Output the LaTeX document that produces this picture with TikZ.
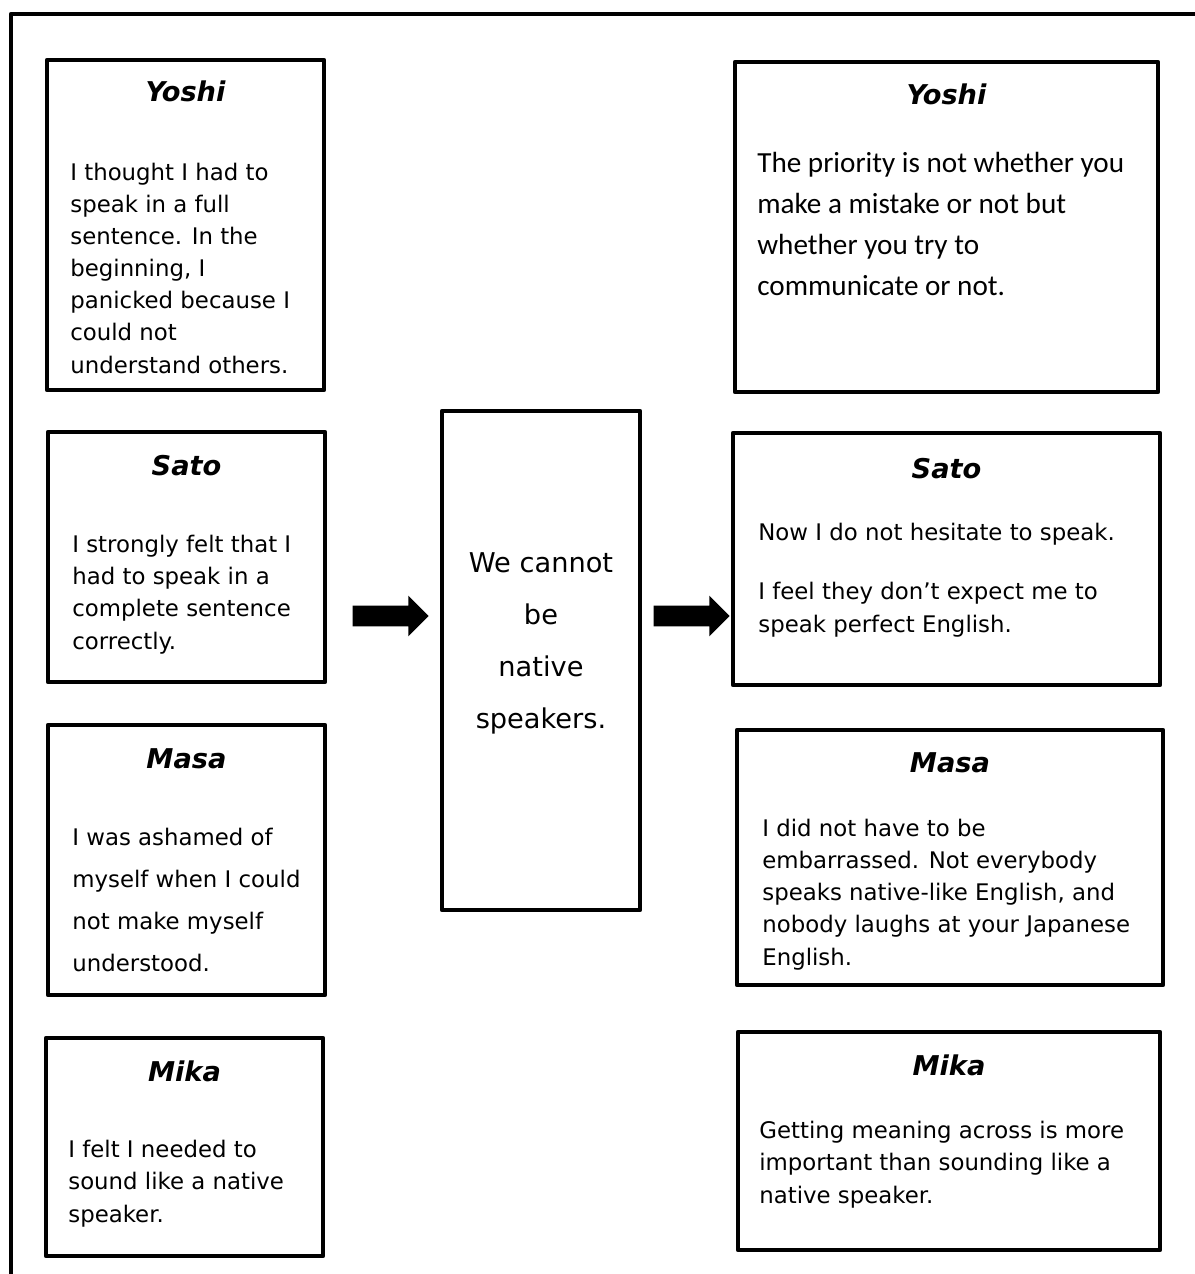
\documentclass[tikz,border=0pt]{standalone}
\usepackage{fontspec}
\setmainfont{DejaVu Sans}
\newfontfamily\carlito{Carlito}
\usetikzlibrary{shapes.arrows}

\begin{document}
\begin{tikzpicture}[x=0.02cm,y=-0.02cm,
  box/.style={draw,line width=2.6pt,line join=round,inner sep=0pt},
  who/.style={anchor=base,inner sep=0pt,font=\fontsize{15.5}{18}\selectfont\bfseries\itshape},
  body/.style={anchor=base west,align=left,inner sep=0pt,font=\fontsize{13}{18.3}\selectfont},
  blk/.style={single arrow,fill,draw=none,inner sep=0.2cm,single arrow head extend=0.2cm,minimum height=1.52cm}]
  \useasboundingbox (0,0) rectangle (1194,1274);
  \draw[line width=2.6pt,line join=round] (11,1290) -- (11,14) -- (1210,14);
  % before
  \node[box,minimum width=5.54cm,minimum height=6.6cm](yl)at(185.5,225){};
  \node[box,minimum width=5.54cm,minimum height=5.0cm](sl)at(186.5,557){};
  \node[box,minimum width=5.54cm,minimum height=5.4cm](ml)at(186.5,860){};
  \node[box,minimum width=5.54cm,minimum height=4.36cm](kl)at(184.5,1147){};
  % middle
  \node[box,minimum width=3.96cm,minimum height=9.98cm](mid)at(541,660.5){};
  % after
  \node[box,minimum width=8.46cm,minimum height=6.6cm](yr)at(946.5,227){};
  \node[box,minimum width=8.54cm,minimum height=5.04cm](sr)at(946.5,559){};
  \node[box,minimum width=8.52cm,minimum height=5.1cm](mr)at(950,857.5){};
  \node[box,minimum width=8.44cm,minimum height=4.36cm](kr)at(949,1141){};
  \node[blk](a1)at(385.5,616){};\node[blk](a2)at(686.5,616){};
  % names
  \node[who](ylt)at(185.5,102){Yoshi};\node[who](slt)at(186.5,475){Sato};
  \node[who](mlt)at(186.5,768){Masa};\node[who](klt)at(184.5,1081){Mika};
  \node[who](yrt)at(946.5,105){Yoshi};\node[who](srt)at(946.5,478){Sato};
  \node[who](mrt)at(950,772){Masa};\node[who](krt)at(949,1075){Mika};
  % texts (placed at the baseline of their last line)
  \node[body](ylb)at(70,373){I thought I had to\\speak in a full\\sentence. In the\\beginning, I\\panicked because I\\could not\\understand others.};
  \node[body](slb)at(72,649){I strongly felt that I\\had to speak in a\\complete sentence\\correctly.};
  \node[body,font=\fontsize{13}{23.8}\selectfont](mlb)at(72,971){I was ashamed of\\myself when I could\\not make myself\\understood.};
  \node[body](klb)at(68,1222){I felt I needed to\\sound like a native\\speaker.};
  \node[body,anchor=base,align=center,font=\fontsize{15.5}{29.5}\selectfont](midt)at(541,728){We cannot\\be\\native\\speakers.};
  \node[body,font=\fontsize{16.6}{23.2}\selectfont\carlito](yrb)at(757,295){The priority is not whether you\\make a mistake or not but\\whether you try to\\communicate or not.};
  \node[body](srb)at(758,632){Now I do not hesitate to speak.\\[15.7pt]I feel they don’t expect me to\\speak perfect English.};
  \node[body](mrb)at(762,965){I did not have to be\\embarrassed. Not everybody\\speaks native-like English, and\\nobody laughs at your Japanese\\English.};
  \node[body](krb)at(759,1203){Getting meaning across is more\\important than sounding like a\\native speaker.};
\end{tikzpicture}
\end{document}
